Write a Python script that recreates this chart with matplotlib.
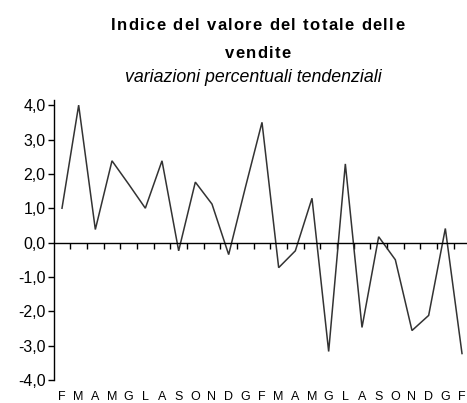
import matplotlib
matplotlib.use("Agg")
import matplotlib.pyplot as plt
from matplotlib.ticker import FixedLocator
from matplotlib.font_manager import FontProperties, findfont
from matplotlib.ft2font import FT2Font

months = ["F", "M", "A", "M", "G", "L", "A", "S", "O", "N", "D", "G",
          "F", "M", "A", "M", "G", "L", "A", "S", "O", "N", "D", "G", "F"]
values = [1.0, 4.0, 0.38, 2.38, 1.7, 1.0, 2.38, -0.24, 1.76, 1.12, -0.35, 1.6,
          3.5, -0.73, -0.24, 1.29, -3.17, 2.29, -2.47, 0.17, -0.5, -2.56, -2.12, 0.41, -3.23]
yticks = [-4, -3, -2, -1, 0, 1, 2, 3, 4]
title_lines = ["Indice del valore del totale delle", "vendite"]
subtitle = "variazioni percentuali tendenziali"

plt.rcParams['font.family'] = ['Liberation Sans', 'DejaVu Sans']

DPI = 100
W, H = 467, 403
fig = plt.figure(figsize=(W / DPI, H / DPI), dpi=DPI)
ax = fig.add_axes([54 / W, 23 / H, 1 - 54 / W, 280 / H])

x = list(range(len(values)))
ax.plot(x, values, color='#333333', lw=1.1, solid_joinstyle='miter')

ax.set_xlim(-0.48, 24.3)
ax.set_ylim(-4, 4.15)

ax.spines['top'].set_visible(False)
ax.spines['right'].set_visible(False)
ax.spines['bottom'].set_position(('data', 0))
ax.spines['bottom'].set_linewidth(1.0)
ax.spines['left'].set_linewidth(1.0)

ax.set_yticks(yticks)
ax.set_yticklabels([f"{v:.1f}".replace('.', ',') for v in yticks], fontsize=11.5)
ax.tick_params(axis='y', direction='out', length=4, width=1, pad=2, colors='black')

ax.xaxis.set_major_locator(FixedLocator([i + 0.5 for i in range(len(values) - 1)]))
ax.tick_params(axis='x', direction='out', length=4, width=1, labelbottom=False)

trans = ax.get_xaxis_transform()
for i, m in enumerate(months):
    ax.text(i, -0.04, m, transform=trans, ha='center', va='top', fontsize=9)


def spaced_text(xc_px, ybase_px, s, prop, spacing_px):
    ft = FT2Font(findfont(prop))
    ft.set_size(prop.get_size_in_points(), DPI)
    widths = []
    for ch in s:
        g = ft.load_char(ord(ch))
        widths.append(g.linearHoriAdvance / 65536.0)
    total = sum(widths) + spacing_px * (len(s) - 1)
    xpos = xc_px - total / 2.0
    for ch, w in zip(s, widths):
        if ch != ' ':
            fig.text(xpos / W, 1 - ybase_px / H, ch, ha='left', va='baseline',
                     fontproperties=prop)
        xpos += w + spacing_px


tprop = FontProperties(family='Liberation Sans', weight='bold', size=12)
spaced_text(257.5, 30, title_lines[0], tprop, 1.3)
spaced_text(257.5, 58, title_lines[1], tprop, 1.3)

fig.text(253 / W, 1 - 78 / H, subtitle, ha='center', va='center',
         fontsize=12.8, fontstyle='italic')

fig.savefig("out.png", dpi=DPI)
